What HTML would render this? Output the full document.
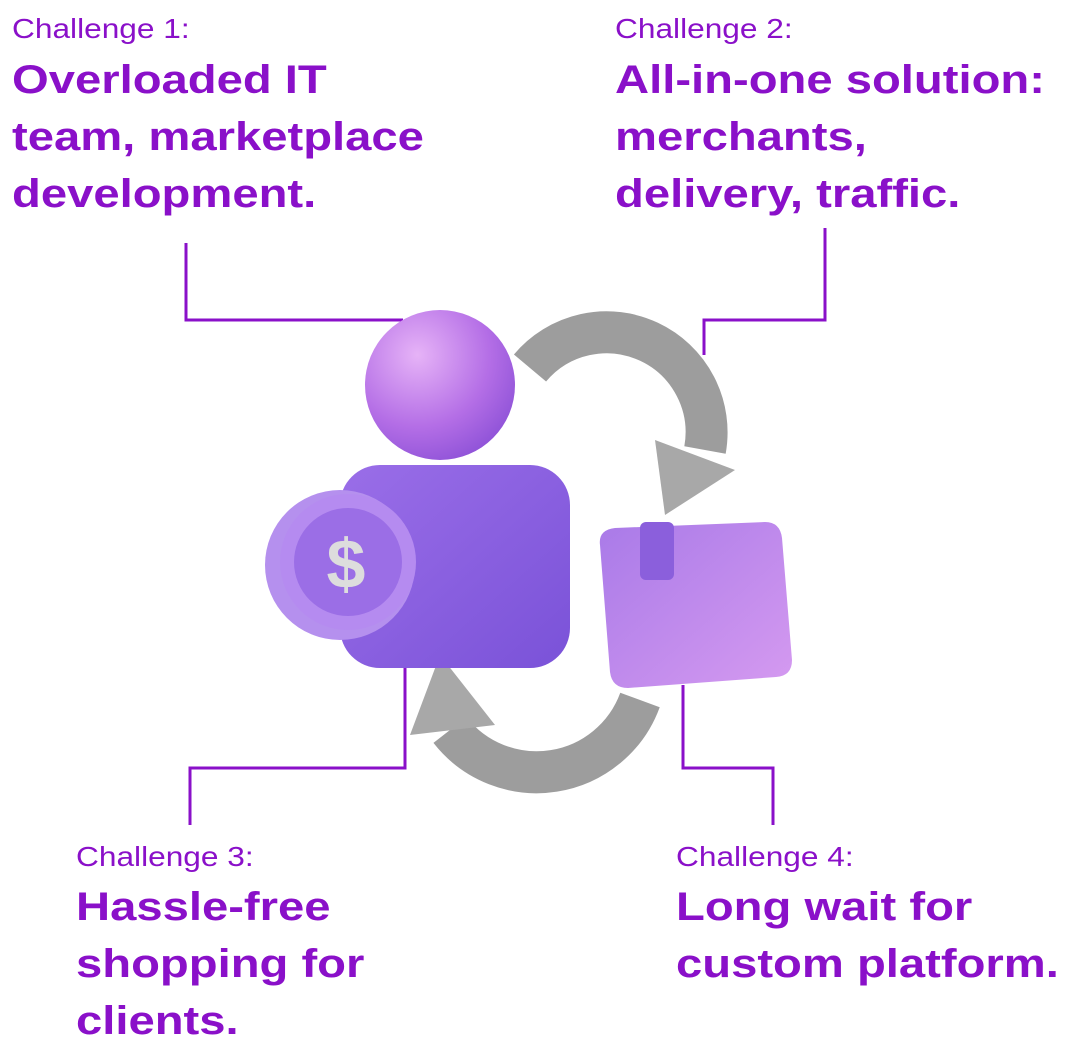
<!DOCTYPE html>
<html><head><meta charset="utf-8"><style>
body{margin:0;width:1079px;height:1055px;background:#fff;position:relative;overflow:hidden;font-family:"Liberation Sans",sans-serif;color:#8a10c9}
.t{position:absolute;font-size:28px;font-weight:300;line-height:30px;transform:scaleX(1.13);transform-origin:left top;white-space:nowrap}
.b{position:absolute;font-size:40px;font-weight:bold;line-height:57px;transform:scaleX(1.18);transform-origin:left top;white-space:nowrap}
</style></head><body>
<div class="t" style="left:12px;top:14px">Challenge 1:</div>
<div class="b" style="left:12px;top:52px">Overloaded IT<br>team, marketplace<br>development.</div>
<div class="t" style="left:615px;top:14px">Challenge 2:</div>
<div class="b" style="left:615px;top:52px">All-in-one solution:<br>merchants,<br>delivery, traffic.</div>
<div class="t" style="left:76px;top:842px">Challenge 3:</div>
<div class="b" style="left:76px;top:879px">Hassle-free<br>shopping for<br>clients.</div>
<div class="t" style="left:676px;top:842px">Challenge 4:</div>
<div class="b" style="left:676px;top:879px">Long wait for<br>custom platform.</div>
<svg width="1079" height="1055" style="position:absolute;left:0;top:0">
<defs>
<radialGradient id="sp" cx="0.35" cy="0.3" r="0.8"><stop offset="0" stop-color="#e6b3f7"/><stop offset="0.6" stop-color="#b46ee6"/><stop offset="1" stop-color="#8a4fd6"/></radialGradient>
<linearGradient id="bd" x1="0" y1="0" x2="1" y2="1"><stop offset="0" stop-color="#9a6ee8"/><stop offset="1" stop-color="#7a52d8"/></linearGradient>
<linearGradient id="bx" x1="0" y1="0" x2="1" y2="1"><stop offset="0" stop-color="#a97ae8"/><stop offset="1" stop-color="#d59af0"/></linearGradient>
</defs>
<g fill="none" stroke="#8a10c9" stroke-width="3">
<polyline points="186,243 186,320 403,320"/>
<polyline points="825,228 825,320 704,320 704,355"/>
<polyline points="405,665 405,768 190,768 190,825"/>
<polyline points="683,685 683,768 773,768 773,825"/>
</g>
<path d="M530,368 A100,100 0 0 1 705,450" fill="none" stroke="#9d9d9d" stroke-width="42"/>
<polygon points="655,440 735,470 665,515" fill="#a8a8a8"/>
<path d="M640,700 A110,110 0 0 1 450,730" fill="none" stroke="#9d9d9d" stroke-width="42"/>
<polygon points="410,735 440,655 495,725" fill="#a8a8a8"/>
<rect x="340" y="465" width="230" height="203" rx="40" fill="url(#bd)"/>
<circle cx="440" cy="385" r="75" fill="url(#sp)"/>
<circle cx="340" cy="565" r="75" fill="#b590ee"/>
<circle cx="348" cy="562" r="68" fill="#b58bf0"/>
<circle cx="348" cy="562" r="54" fill="#9b6ee6"/>
<text x="346" y="588" font-size="70" font-weight="bold" fill="#ddd" text-anchor="middle" font-family="Liberation Sans">$</text>
<path d="M600,545 Q598,530 615,528 L765,522 Q780,522 782,538 L792,660 Q792,676 776,677 L628,688 Q612,688 610,672 Z" fill="url(#bx)"/>
<rect x="640" y="522" width="34" height="58" rx="6" fill="#8b5fdc"/>
</svg>
</body></html>
